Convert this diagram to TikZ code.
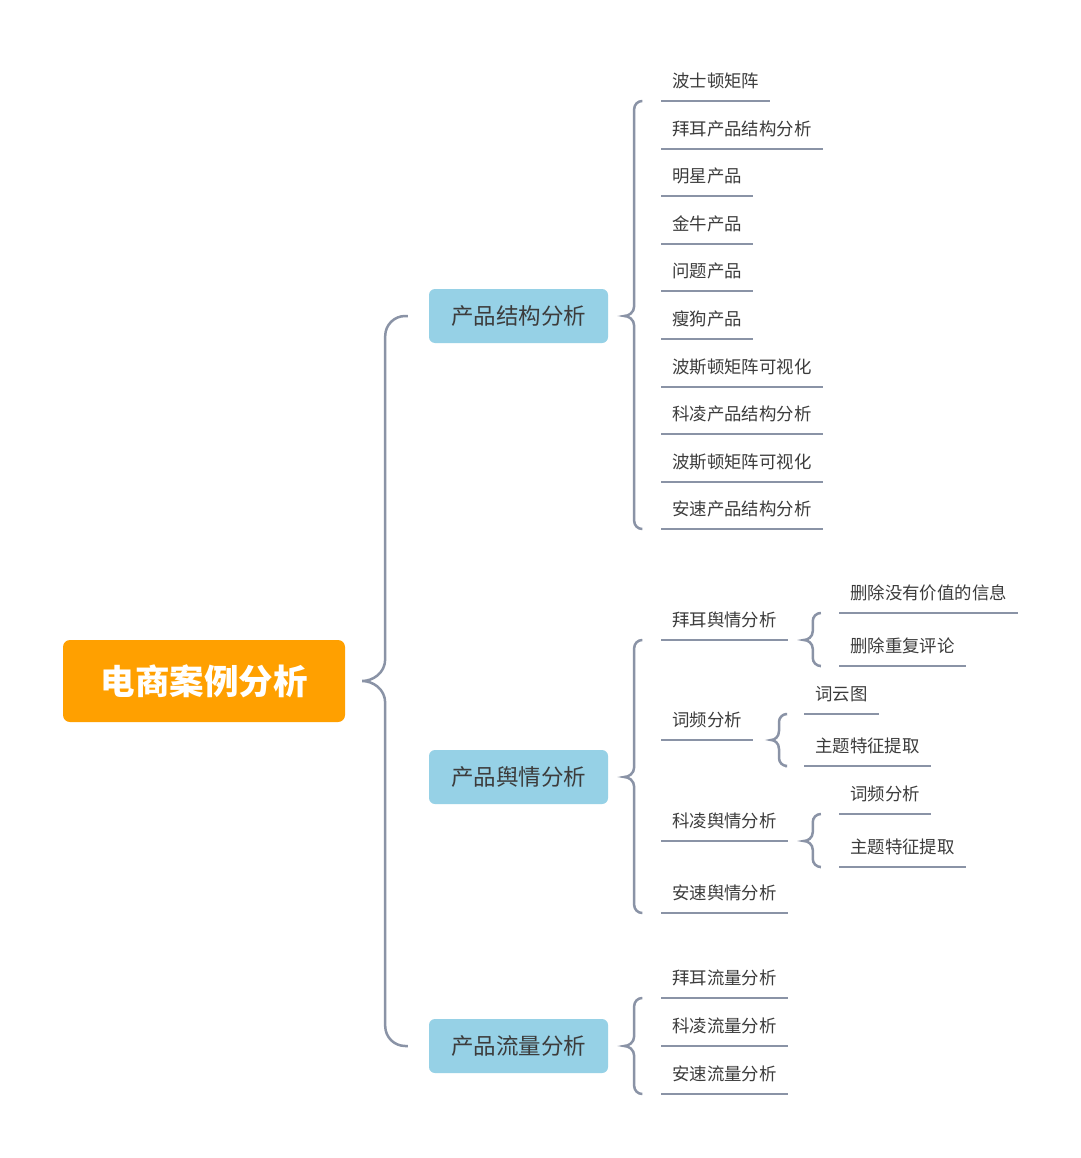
\documentclass[tikz,border=0pt]{standalone}
\usepackage{fontspec}
\usetikzlibrary{calc}
\newfontfamily\cjk{Noto Sans CJK SC}
\definecolor{lnc}{HTML}{8A93A6}
\definecolor{boxc}{HTML}{96D1E6}
\definecolor{rootc}{HTML}{FFA000}
\definecolor{txt}{HTML}{3C3C3C}
\tikzset{
 ln/.style={draw=lnc, line width=2.5pt},
 leaf/.style={anchor=south west, inner xsep=11pt, inner ysep=0pt, minimum height=39pt, text=txt, font=\cjk\fontsize{17.4}{20}\selectfont},
 topic/.style={fill=boxc, rounded corners=6pt, minimum width=179pt, minimum height=54pt, text=txt, font=\cjk\fontsize{22.5}{26}\selectfont, inner sep=0pt},
 rootbox/.style={fill=rootc, rounded corners=7pt, minimum width=282pt, minimum height=82pt, text=white, font=\cjk\bfseries\fontsize{34.5}{40}\selectfont, inner sep=0pt},
}
% #1 parent point, #2 top child point, #3 bottom child point, #4 gap, #5 depth, #6 radius, #7 end gap, #8 pointer curve
\newcommand{\brc}[8]{%
 \draw[ln] let \p1=(#1), \p2=(#2), \p3=(#3) in
 ({\x2-#7pt},\y2) -- ({\x1+(#4+#5+#6)*1pt},\y2) arc[start angle=90,end angle=180,radius=#6pt]
 -- ({\x1+(#4+#5)*1pt},{\y1+#8pt})
 .. controls ({\x1+(#4+#5)*1pt},{\y1+0.35*#8pt}) and ({\x1+(#4+0.45*#5)*1pt},\y1) .. ({\x1+#4pt},\y1)
 .. controls ({\x1+(#4+0.45*#5)*1pt},\y1) and ({\x1+(#4+#5)*1pt},{\y1-0.35*#8pt}) .. ({\x1+(#4+#5)*1pt},{\y1-#8pt})
 -- ({\x1+(#4+#5)*1pt},{\y3+#6pt}) arc[start angle=180,end angle=270,radius=#6pt] -- ({\x3-#7pt},\y3);}
\begin{document}
\begin{tikzpicture}[x=1pt,y=-1pt]
\useasboundingbox[fill=white] (0,0) rectangle (1080,1158);
\node[rootbox] (root) at (204,681) {电商案例分析};
\node[topic] (t1) at (518.5,316) {产品结构分析};
\node[topic] (t2) at (518.5,777) {产品舆情分析};
\node[topic] (t3) at (518.5,1046) {产品流量分析};
% structure leaves
\node[leaf] (a1) at (661,101) {波士顿矩阵};
\node[leaf] (a2) at (661,149) {拜耳产品结构分析};
\node[leaf] (a3) at (661,196) {明星产品};
\node[leaf] (a4) at (661,244) {金牛产品};
\node[leaf] (a5) at (661,291) {问题产品};
\node[leaf] (a6) at (661,339) {瘦狗产品};
\node[leaf] (a7) at (661,387) {波斯顿矩阵可视化};
\node[leaf] (a8) at (661,434) {科凌产品结构分析};
\node[leaf] (a9) at (661,482) {波斯顿矩阵可视化};
\node[leaf] (a10) at (661,529) {安速产品结构分析};
% sentiment
\node[leaf] (b1) at (661,640) {拜耳舆情分析};
\node[leaf] (b2) at (661,740) {词频分析};
\node[leaf] (b3) at (661,841) {科凌舆情分析};
\node[leaf] (b4) at (661,913) {安速舆情分析};
\node[leaf] (b11) at (839,613) {删除没有价值的信息};
\node[leaf] (b12) at (839,666) {删除重复评论};
\node[leaf] (b21) at (804,714) {词云图};
\node[leaf] (b22) at (804,766) {主题特征提取};
\node[leaf] (b31) at (839,814) {词频分析};
\node[leaf] (b32) at (839,867) {主题特征提取};
% traffic
\node[leaf] (c1) at (661,998) {拜耳流量分析};
\node[leaf] (c2) at (661,1046) {科凌流量分析};
\node[leaf] (c3) at (661,1094) {安速流量分析};
\foreach \n in {a1,a2,a3,a4,a5,a6,a7,a8,a9,a10,b1,b2,b3,b4,b11,b12,b21,b22,b31,b32,c1,c2,c3}
 \draw[ln] (\n.south west) -- (\n.south east);
% braces
\brc{root.east}{t1.west}{t3.west}{17}{23}{20}{21}{22}
\brc{t1.east}{a1.south west}{a10.south west}{16}{10}{8}{19}{10}
\brc{t2.east}{b1.south west}{b4.south west}{16}{10}{8}{19}{10}
\brc{t3.east}{c1.south west}{c3.south west}{16}{10}{8}{19}{10}
\brc{b1.south east}{b11.south west}{b12.south west}{16}{9}{8}{19}{9}
\brc{b2.south east}{b21.south west}{b22.south west}{18}{8}{8}{19}{9}
\brc{b3.south east}{b31.south west}{b32.south west}{16}{9}{8}{19}{9}
\end{tikzpicture}
\end{document}
